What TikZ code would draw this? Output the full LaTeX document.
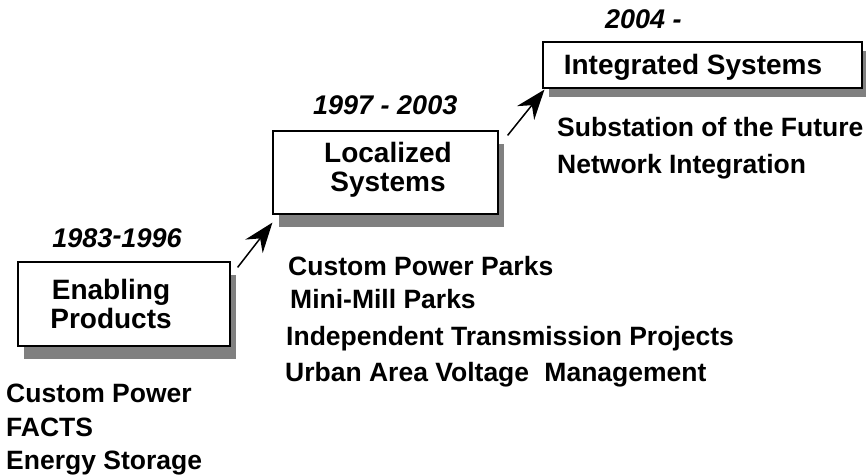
\documentclass[tikz,border=0pt]{standalone}
\usepackage{fontspec}
\setmainfont{Liberation Sans}
\usepackage{tikz}
\usetikzlibrary{arrows.meta,shadows}
\definecolor{shadowgray}{gray}{0.5}

\begin{document}
\begin{tikzpicture}[x=1pt,y=-1pt,
		stagebox/.style={draw=black, line width=1.2pt, fill=white, inner sep=0pt,
			drop shadow={shadow xshift=6pt, shadow yshift=#1, fill=shadowgray, opacity=1}},
		stagebox/.default=-13pt,
		boxtext/.style={font=\fontsize{28}{29}\selectfont\bfseries, align=center, inner sep=0pt},
		yeartext/.style={font=\fontsize{27}{28}\selectfont\bfseries\itshape, inner sep=0pt, anchor=base west},
		itemtext/.style={font=\fontsize{26.5}{28}\selectfont\bfseries, inner sep=0pt, anchor=base west},
		steparrow/.style={line width=1.5pt, -{Stealth[length=30pt,width=22pt,inset=10pt]}}]
		\useasboundingbox (0,0) rectangle (866,475);

		% the three stages
		\node[stagebox, minimum width=212pt, minimum height=84pt] (enabling) at (124,304) {};
		\node[boxtext] (enablingtxt) at ([xshift=-13pt]enabling.center) {Enabling\\Products};

		\node[stagebox, minimum width=225pt, minimum height=83pt] (localized) at (385.5,172.5) {};
		\node[boxtext] (localizedtxt) at ([xshift=2.5pt,yshift=3pt]localized.center) {Localized\\Systems};

		\node[stagebox=-9pt, minimum width=319pt, minimum height=46pt] (integrated) at (702.5,65) {};
		\node[boxtext, anchor=base] (integratedtxt) at ([xshift=-9.5pt,yshift=-9pt]integrated.center) {Integrated Systems};

		\draw[steparrow] ([xshift=7pt,yshift=-6pt]enabling.north east) -- ([yshift=-8pt]localized.south west);
		\draw[steparrow] ([xshift=9pt,yshift=-5pt]localized.north east) -- ([xshift=2pt,yshift=-1pt]integrated.south west);

		% years
		\node[yeartext, anchor=base] (year1) at (117,247) {1983\raisebox{3pt}{-}1996};
		\node[yeartext] (year2) at (313,114) {1997 - 2003};
		\node[yeartext] (year3) at (605,28) {2004 -};

		% what each stage covers
		\node[itemtext] (custom) at (6,402) {Custom Power};
		\node[itemtext] (facts) at (6,436) {FACTS};
		\node[itemtext] (storage) at (6,469) {Energy Storage};

		\node[itemtext] (parks) at (288,275) {Custom Power Parks};
		\node[itemtext] (minimill) at (290,308) {Mini-Mill Parks};
		\node[itemtext] (transmission) at (286,345) {Independent Transmission Projects};
		\node[itemtext] (urban) at (285,381) {Urban Area Voltage\hspace{0.3em} Management};

		\node[itemtext] (substation) at (557,136) {Substation of the Future};
		\node[itemtext] (network) at (557,173) {Network Integration};
	\end{tikzpicture}
\end{document}
